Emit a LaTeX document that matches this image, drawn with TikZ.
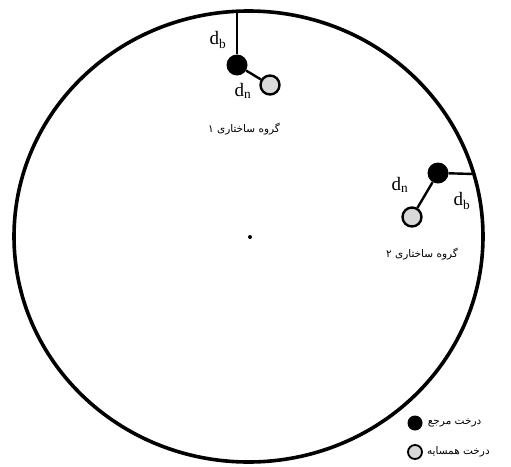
\documentclass[tikz,border=0pt]{standalone}
\usepackage{fontspec}
\usepackage{tikz}
\usetikzlibrary{positioning}
\setmainfont{Liberation Serif}
\newfontfamily\farsifont[Script=Arabic]{DejaVu Sans}
\TeXXeTstate=1

\begin{document}
\begin{tikzpicture}[x=1pt,y=-1pt,
    reftree/.style={circle,fill=black,inner sep=0pt,minimum size=21pt},
    nbtree/.style={circle,draw=black,fill=gray!30,line width=2.4pt,inner sep=0pt,minimum size=19pt},
    lbl/.style={font=\fontsize{19}{19}\selectfont,inner sep=0pt},
    grp/.style={font=\farsifont\fontsize{10.5}{12}\selectfont,inner sep=1pt},
    link/.style={line width=2.4pt,black}
  ]
    \useasboundingbox (0,0) rectangle (511,466);
    % boundary
    \draw[line width=3.6pt] (248.5,236.5) ellipse [x radius=234.5,y radius=225.5];
    \fill (250,237) circle[radius=2pt];
    \coordinate (topedge) at (237,12);
    \coordinate (rightedge) at (474,174);
    % group 1
    \node[reftree] (ref1) at (237,65) {};
    \node[nbtree] (nb1) at (270,85) {};
    \node[lbl] (db1) at (218,40) {d$_\mathrm{b}$};
    \node[lbl] (dn1) at (243,91) {d$_\mathrm{n}$};
    \node[grp] (g1) at (244,129) {\beginR گروه ساختاری ۱\endR};
    \draw[link] (ref1) -- (topedge);
    \draw[link] (ref1) -- (nb1);
    % group 2
    \node[reftree] (ref2) at (438,173) {};
    \node[nbtree] (nb2) at (412,217) {};
    \node[lbl] (dn2) at (400,185) {d$_\mathrm{n}$};
    \node[lbl] (db2) at (462,201) {d$_\mathrm{b}$};
    \node[grp] (g2) at (422,254) {\beginR گروه ساختاری ۲\endR};
    \draw[link] (ref2) -- (rightedge);
    \draw[link] (ref2) -- (nb2);
    % legend
    \node[reftree,minimum size=15pt] (legref) at (415,423) {};
    \node[nbtree,minimum size=14pt,line width=1.8pt] (legnb) at (415,452) {};
    \node[grp,right=4pt of legref] (legreft) {\beginR درخت مرجع\endR};
    \node[grp,right=3pt of legnb] (legnbt) {\beginR درخت همسایه\endR};
  \end{tikzpicture}
\end{document}
